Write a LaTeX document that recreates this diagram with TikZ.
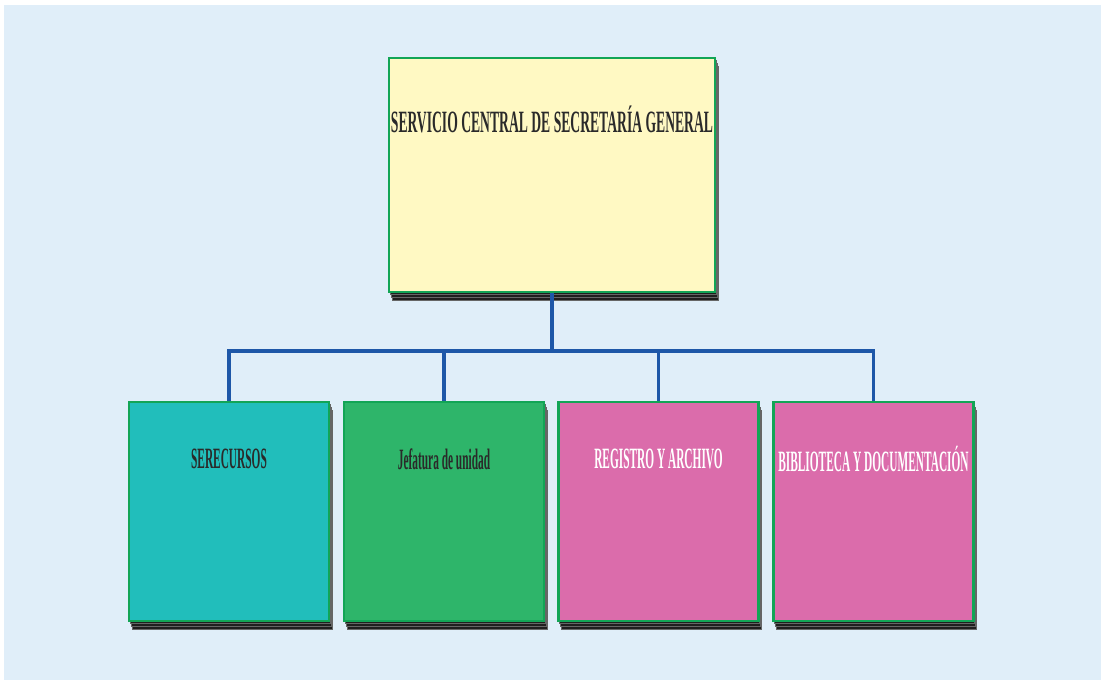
\documentclass[tikz,border=0pt]{standalone}
\usepackage{fontspec}
\setmainfont{Liberation Serif}
\newfontfamily\titlefont[FakeStretch=0.44]{Liberation Serif}
\newfontfamily\unitfont[FakeStretch=0.385]{Liberation Serif}
\usetikzlibrary{shadows}

\definecolor{bgblue}{HTML}{E0EEF9}
\definecolor{rimgreen}{HTML}{12A556}
\definecolor{topyellow}{HTML}{FFF9C3}
\definecolor{teal}{HTML}{21BEBB}
\definecolor{unitgreen}{HTML}{2EB56A}
\definecolor{pink}{HTML}{DB6CAB}
\definecolor{linkblue}{HTML}{1E57A8}
\definecolor{inkgrey}{HTML}{2A2A2A}

\tikzset{
  stack/.style={
    general shadow={shadow xshift=3pt,shadow yshift=-8pt,fill=black!88,draw=black!60,line width=0.8pt},
    general shadow={shadow xshift=2pt,shadow yshift=-5.3pt,fill=black!88,draw=black!60,line width=0.8pt},
    general shadow={shadow xshift=1pt,shadow yshift=-2.7pt,fill=black!88,draw=black!60,line width=0.8pt}},
  orgbox/.style={draw=rimgreen,line width=2.5pt,stack,inner sep=0pt},
  topbox/.style={orgbox,fill=topyellow,minimum width=326pt,minimum height=234pt},
  unitbox/.style={orgbox,minimum width=200pt,minimum height=219pt},
  link/.style={linkblue,line width=3.6pt}
}

\begin{document}
\begin{tikzpicture}[x=1pt,y=-1pt]
    \useasboundingbox (0,0) rectangle (1102,681);
    \fill[bgblue] (4,5) rectangle (1101,680);

    % head of the service
    \node[topbox] (sc) at (552,175) {};
    \node[text=inkgrey,font=\titlefont\bfseries\fontsize{31}{33}\selectfont] (sc-t) at (552,119) {SERVICIO CENTRAL DE SECRETAR\'IA GENERAL};

    % units
    \node[unitbox,fill=teal] (sr) at (229,511.5) {};
    \node[unitbox,fill=unitgreen] (ju) at (444,511.5) {};
    \node[unitbox,fill=pink] (ra) at (658.5,511.5) {};
    \node[unitbox,fill=pink] (bd) at (873.5,511.5) {};

    \tikzset{unitfont/.style={font=\unitfont\bfseries\fontsize{29.5}{31}\selectfont}}
    \node[unitfont,text=inkgrey] (sr-t) at (229,459) {SERECURSOS};
    \node[unitfont,text=inkgrey] (ju-t) at (444,459) {Jefatura de unidad};
    \node[unitfont,text=white] (ra-t) at (658.5,459) {REGISTRO Y ARCHIVO};
    \node[unitfont,text=white] (bd-t) at (873.5,459) {BIBLIOTECA Y DOCUMENTACI\'ON};

    % connectors
    \coordinate (bar) at ([yshift=-58pt]sc.south);
    \draw[link] (sc.south) -- (bar);
    \draw[link] (sr.north) |- (bar) -| (bd.north);
    \draw[link] (ju.north) -- (ju.north |- bar);
    \draw[link] (ra.north) -- (ra.north |- bar);
\end{tikzpicture}
\end{document}
